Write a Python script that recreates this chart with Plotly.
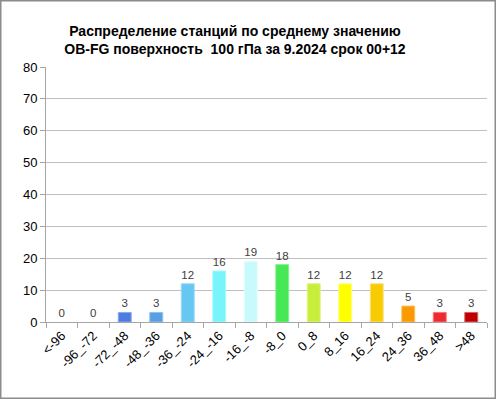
import plotly.graph_objects as go

categories = ["<-96", "-96_-72", "-72_-48", "-48_-36", "-36_-24", "-24_-16", "-16_-8",
              "-8_0", "0_8", "8_16", "16_24", "24_36", "36_48", ">48"]
counts = [0, 0, 3, 3, 12, 16, 19, 18, 12, 12, 12, 5, 3, 3]
bar_colors = ["#2F4FB8", "#3A62C8", "#4A7DDE", "#58A0E3", "#66C8F2", "#78F4FA", "#C8FAFC",
              "#46E856", "#C8EE3C", "#FFFF00", "#F8CC00", "#F89A00", "#EE2A2E", "#C00000"]
edge_colors = ["#6F8FE0", "#7A9AE6", "#8AA8EE", "#8EC0EE", "#9AD8F6", "#A8F8FC", "#E4FDFE",
               "#86F092", "#DDF47E", "#FFFF80", "#FCE080", "#FCC060", "#F67478", "#D86060"]
y_ticks = [0, 10, 20, 30, 40, 50, 60, 70, 80]
title_text = ("<b>Распределение станций по среднему значению</b><br>"
              "<b>OB-FG поверхность  100 гПа за 9.2024 срок 00+12</b>")

W, H = 496, 399
ml, mr, mt, mb = 46, 9, 67, 77
pw, ph = W - ml - mr, H - mt - mb

fig = go.Figure()
fig.add_trace(go.Bar(
    x=categories, y=counts,
    marker=dict(color=bar_colors,
                line=dict(color=edge_colors, width=[0 if v == 0 else 1 for v in counts])),
    text=[str(v) for v in counts], textposition="outside",
    textfont=dict(family="Liberation Sans, Arial, sans-serif", size=11.5, color="#404040"),
    cliponaxis=False, width=0.41,
))

fig.update_layout(
    width=W, height=H,
    margin=dict(l=ml, r=mr, t=mt, b=mb),
    paper_bgcolor="white", plot_bgcolor="white",
    showlegend=False,
    title=dict(text=title_text, x=235 / W, xanchor="center", xref="container",
               y=1 - 36 / H, yanchor="middle", yref="container",
               font=dict(family="Liberation Sans, Arial, sans-serif", size=14, color="#000000")),
    font=dict(family="Liberation Sans, Arial, sans-serif", color="#000000"),
    xaxis=dict(type="category", tickangle=-45, tickson="boundaries",
               ticks="outside", ticklen=5, tickcolor="#A6A6A6",
               showline=True, linecolor="#A6A6A6", linewidth=1,
               showgrid=False, tickfont=dict(size=13, color="#000000"),
               range=[-0.5, len(categories) - 0.5], automargin=False),
    yaxis=dict(range=[0, 80], tickvals=y_ticks, ticks="outside", ticklen=5,
               tickcolor="#A6A6A6", showline=True, linecolor="#A6A6A6", linewidth=1,
               showgrid=True, gridcolor="#C0C0C0", gridwidth=1,
               tickfont=dict(size=13, color="#000000"), zeroline=False, automargin=False),
    bargap=0.59,
)

# outer chart frame (in pixel terms converted to paper coordinates)
fig.add_shape(type="rect", xref="paper", yref="paper",
              x0=(0.75 - ml) / pw, x1=(W - 0.75 - ml) / pw,
              y0=-(mb - 0.75) / ph, y1=(ph + mt - 0.75) / ph,
              line=dict(color="#8C8C8C", width=1.5), layer="below")

fig.write_html("out.html", config={"displayModeBar": False})

with open("out.html", "r", encoding="utf-8") as f:
    html = f.read()
html = html.replace("<head>", "<head><style>html,body{margin:0;padding:0;overflow:hidden;}</style>", 1)
with open("out.html", "w", encoding="utf-8") as f:
    f.write(html)
